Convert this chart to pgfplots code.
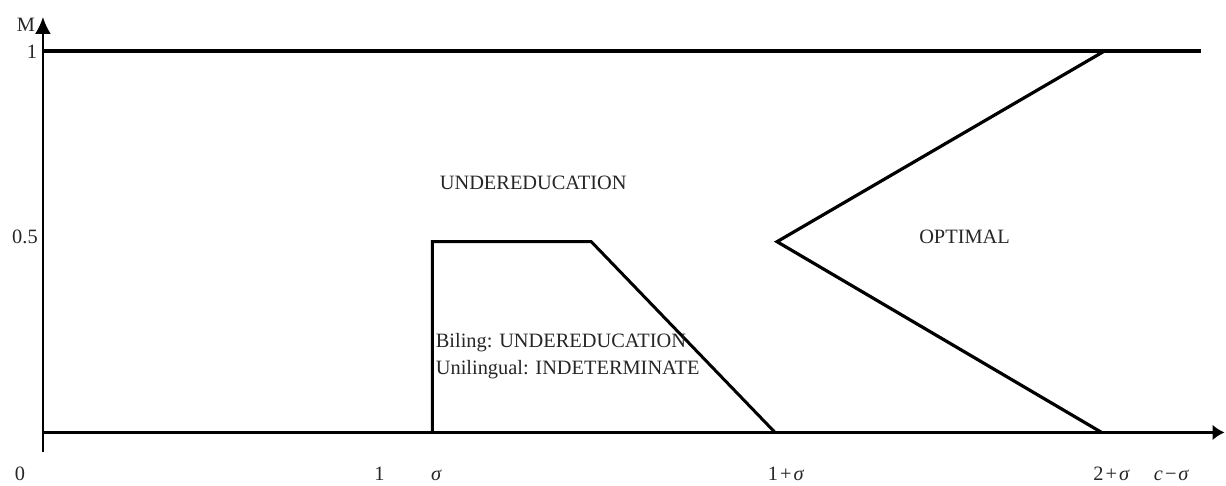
\documentclass[border=0pt]{standalone}
\usepackage{fontspec}
\setmainfont{Liberation Serif}
\usepackage{pgfplots}
\pgfplotsset{compat=1.18}
\usetikzlibrary{arrows.meta}
\begin{document}
\begin{tikzpicture}[lbl/.style={font=\fontsize{10.2}{12}\selectfont, inner sep=0pt, text=black!85}]
\begin{axis}[scale only axis, width=613pt, height=243pt,
  xmin=-43, xmax=1183, ymin=-0.13874, ymax=1.13351,
  hide axis, clip=false]
% axes
\addplot[line width=1pt, -{Latex[length=8.5pt,width=8pt]}] coordinates {(0,-0.0524) (0,1.089)};
\addplot[line width=1.5pt, -{Latex[length=6pt,width=8pt]}] coordinates {(0,0) (1183,0)};
% top line
\addplot[line width=1.6pt] coordinates {(0,1) (1159,1)};
% trapezoid
\addplot[line width=1.5pt] coordinates {(390,0) (390,0.5) (549,0.5) (733,0)};
% V shape
\addplot[line width=1.6pt] coordinates {(1063,1) (735,0.5) (1060,0)};
% labels
\node[lbl, anchor=center] at (axis cs:-17,1.068) {M};
\node[lbl, anchor=center] at (axis cs:-11,0.997) {1};
\node[lbl, anchor=center] at (axis cs:-18,0.513) {0.5};
\node[lbl, anchor=base] at (axis cs:-23,-0.1265) {0};
\node[lbl, anchor=base] at (axis cs:337,-0.1265) {1};
\node[lbl, anchor=base] at (axis cs:394,-0.1265) {\textit{σ}};
\node[lbl, anchor=base] at (axis cs:744,-0.1265) {1\kern1pt+\kern1pt\textit{σ}};
\node[lbl, anchor=base] at (axis cs:1070,-0.1265) {2\kern1pt+\kern1pt\textit{σ}};
\node[lbl, anchor=base] at (axis cs:1130,-0.1265) {\textit{c}\kern1pt−\kern1pt\textit{σ}};
\node[lbl, anchor=base west] at (axis cs:397,0.636) {UNDEREDUCATION};
\node[lbl, anchor=base west] at (axis cs:877,0.495) {OPTIMAL};
\node[lbl, anchor=base west] at (axis cs:393,0.2225) {Biling: UNDEREDUCATION};
\node[lbl, anchor=base west] at (axis cs:393,0.152) {Unilingual: INDETERMINATE};
\end{axis}
\path (current axis.south west) rectangle (current axis.north east);
\end{tikzpicture}
\end{document}
